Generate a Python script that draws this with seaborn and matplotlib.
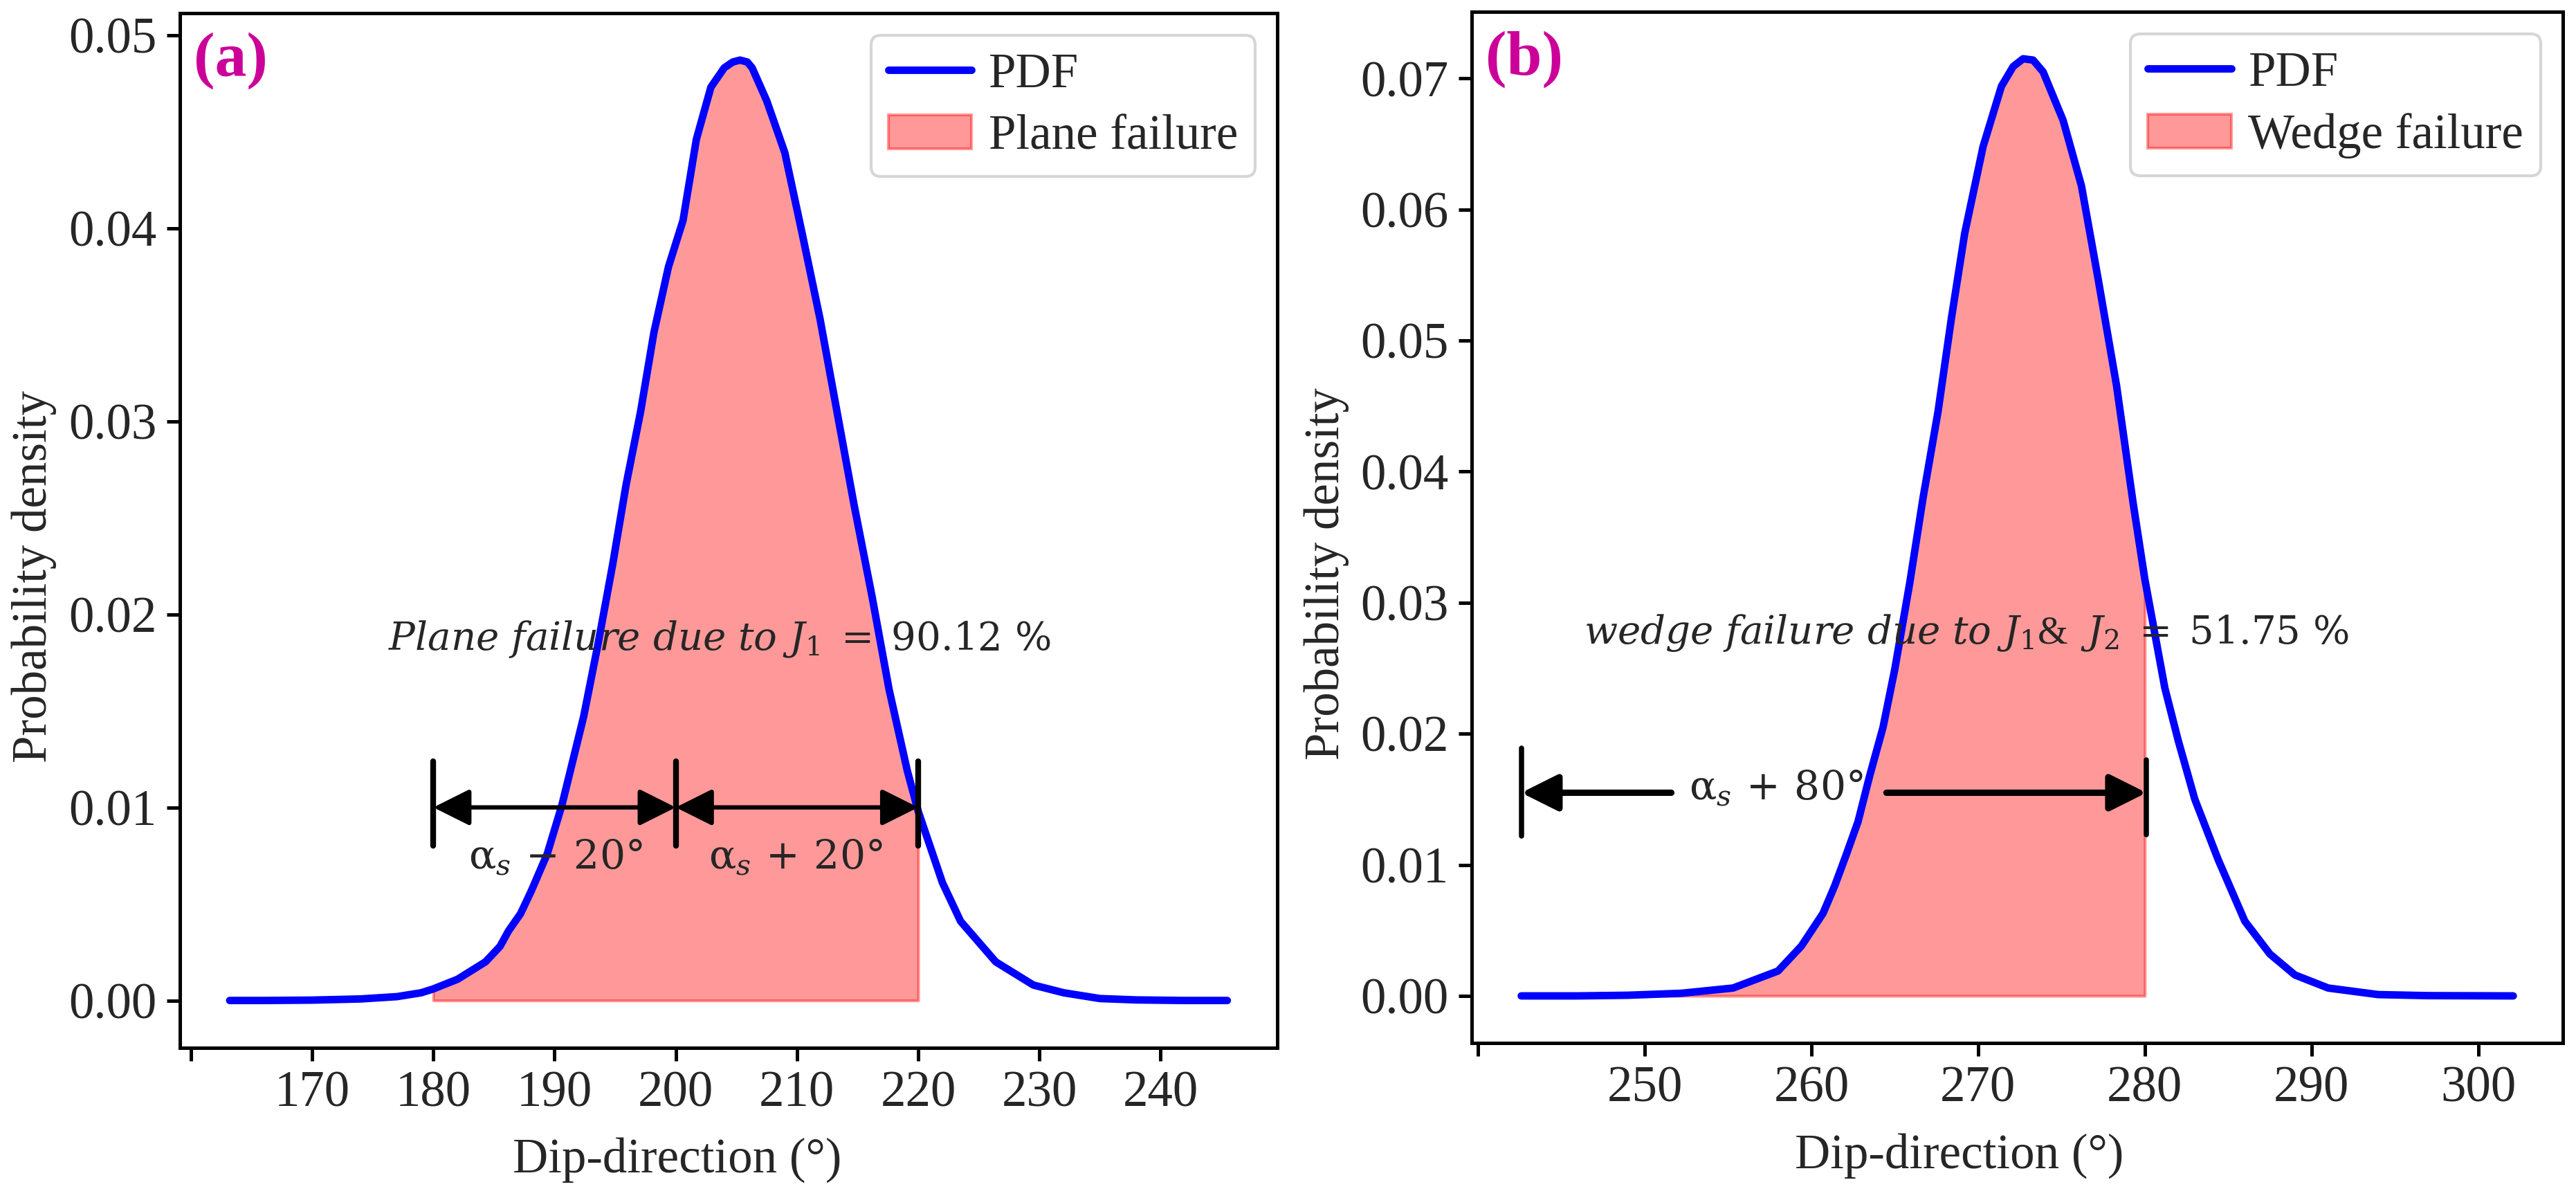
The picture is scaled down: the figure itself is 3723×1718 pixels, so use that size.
import numpy as np
import pandas as pd
import seaborn as sns
import matplotlib.pyplot as plt

# (a) plane failure, joint set J1
dip_a = [163.2, 166, 170, 174, 177, 179, 180, 182, 184.3, 185.5, 186.2, 187.2,
         188.1, 189.4, 190.6, 191.5, 192.4, 193.6, 194.8, 195.9, 197.1, 198.2,
         199.4, 200.6, 201.7, 202.9, 204.0, 204.7, 205.3, 205.9, 206.3, 207.5,
         209.0, 210.4, 211.9, 213.3, 214.7, 216.2, 217.6, 219.1, 220.0, 222.0,
         223.5, 226.4, 229.5, 232, 235, 238, 242, 245.5]
pdf_a = [0, 0, 0.00002, 0.00008, 0.0002, 0.0004, 0.0006, 0.0011, 0.0020, 0.0028,
         0.0036, 0.0045, 0.0057, 0.0076, 0.0101, 0.0124, 0.0147, 0.0185, 0.0226,
         0.0267, 0.0305, 0.0346, 0.0380, 0.0404, 0.0446, 0.0473, 0.0483, 0.0486,
         0.0487, 0.0486, 0.0483, 0.0466, 0.0439, 0.0398, 0.0353, 0.0305, 0.0257,
         0.0209, 0.0161, 0.0119, 0.0098, 0.0061, 0.0041, 0.0020, 0.0008, 0.0004,
         0.0001, 0.00003, 0, 0]
fail_a = (180, 220)

# (b) wedge failure, J1 & J2
dip_b = [242.6, 246, 249, 252.2, 255.3, 258.0, 259.4, 260.7, 261.4, 262.1, 262.8,
         263.5, 264.3, 265.0, 265.9, 266.7, 267.6, 268.4, 269.2, 270.3, 271.4,
         272.1, 272.7, 273.3, 273.9, 275.1, 276.2, 277.2, 278.3, 279.3, 280.0,
         281.2, 282.0, 283.0, 284.4, 286.0, 287.5, 289.0, 291, 294, 297, 302.1]
pdf_b = [0, 0, 0.00005, 0.0002, 0.0006, 0.0019, 0.0038, 0.0063, 0.0084, 0.0108,
         0.0133, 0.0168, 0.0205, 0.0249, 0.0315, 0.0380, 0.0446, 0.0517, 0.0582,
         0.0648, 0.0694, 0.0709, 0.0715, 0.0714, 0.0705, 0.0668, 0.0618, 0.0547,
         0.0466, 0.0376, 0.0318, 0.0235, 0.0195, 0.0150, 0.0104, 0.0057, 0.0032,
         0.0016, 0.0006, 0.0001, 0.00002, 0]
fail_b = (242.6, 280)

xticks_a = list(range(160, 250, 10))
xticks_b = list(range(240, 310, 10))
yticks_a = [0.00, 0.01, 0.02, 0.03, 0.04, 0.05]
yticks_b = [0.00, 0.01, 0.02, 0.03, 0.04, 0.05, 0.06, 0.07]

sns.set_style('ticks')
plt.rcParams['font.family'] = ['Liberation Serif', 'DejaVu Serif']
plt.rcParams['mathtext.fontset'] = 'dejavuserif'

fig = plt.figure(figsize=(3723 / 300, 1718 / 300), dpi=300)
ax1 = fig.add_axes([0.0698, 0.119, 0.426, 0.870])
ax2 = fig.add_axes([0.5713, 0.123, 0.4236, 0.867])

arrow = dict(arrowstyle='<|-|>,head_length=0.4,head_width=0.2', mutation_scale=27,
             color='black', lw=1.5, shrinkA=0, shrinkB=0)
one_way = dict(arrowstyle='-|>,head_length=0.4,head_width=0.2', mutation_scale=27,
               color='black', lw=2.2, shrinkA=0, shrinkB=0)


def panel(ax, x, y, span, fill_label, tag, xticks, yticks, xlab_x):
    df = pd.DataFrame({'dip': x, 'pdf': y})
    sns.lineplot(data=df, x='dip', y='pdf', ax=ax, color='blue', lw=2.6, label='PDF')
    part = df[(df['dip'] >= span[0]) & (df['dip'] <= span[1])]
    ax.fill_between(part['dip'], part['pdf'], color='red', alpha=0.4, label=fill_label)
    ax.set_xticks(xticks)
    ax.set_xticklabels([''] + [str(v) for v in xticks[1:]])
    ax.set_yticks(yticks)
    ax.set_yticklabels(['%.2f' % v for v in yticks])
    ax.tick_params(labelsize=17.5, length=4.5, width=1.2, color='black')
    for s in ax.spines.values():
        s.set_linewidth(1.2)
        s.set_color('black')
    ax.set_xlabel('Dip-direction (°)', fontsize=17, labelpad=7)
    ax.set_ylabel('Probability density', fontsize=17)
    ax.xaxis.label.set_x(xlab_x)
    ax.yaxis.label.set_y(0.455)
    ax.text(0.013, 0.982, tag, transform=ax.transAxes, ha='left', va='top',
            fontsize=22, fontweight='bold', color='#cc0099')
    ax.legend(loc='upper right', fontsize=17, handlelength=1.7, handletextpad=0.35,
              borderaxespad=0.45, labelspacing=0.35, borderpad=0.35)


panel(ax1, dip_a, pdf_a, fail_a, 'Plane failure', '(a)', xticks_a, yticks_a, 0.453)
panel(ax2, dip_b, pdf_b, fail_b, 'Wedge failure', '(b)', xticks_b, yticks_b, 0.447)

# annotations, panel (a)
for xb in (180, 200, 220):
    ax1.plot([xb, xb], [0.0080, 0.0124], color='black', lw=2)
ax1.annotate('', xy=(180, 0.01), xytext=(200, 0.01), arrowprops=arrow)
ax1.annotate('', xy=(200, 0.01), xytext=(220, 0.01), arrowprops=arrow)
ax1.text(190.1, 0.0074, r'$\mathrm{\alpha}_s\,-\,20°$', ha='center', va='center', fontsize=14)
ax1.text(209.9, 0.0074, r'$\mathrm{\alpha}_s\,+\,20°$', ha='center', va='center', fontsize=14)
ax1.text(203.6, 0.0187, r'$Plane\ failure\ due\ to\ J_1\;=\;90.12\ \%$',
         ha='center', va='center', fontsize=13.5)

# annotations, panel (b)
ax2.plot([242.6, 242.6], [0.0122, 0.0189], color='black', lw=1.8)
ax2.plot([280.1, 280.1], [0.0123, 0.0180], color='black', lw=1.8)
ax2.annotate('', xy=(242.6, 0.0155), xytext=(251.6, 0.0155), arrowprops=one_way)
ax2.annotate('', xy=(280.1, 0.0155), xytext=(264.5, 0.0155), arrowprops=one_way)
ax2.text(257.9, 0.0158, r'$\mathrm{\alpha}_s\,+\,80°$', ha='center', va='center', fontsize=14)
ax2.text(269.3, 0.0277, r'$wedge\ failure\ due\ to\ J_1$&  $J_2\;=\;51.75\ \%$',
         ha='center', va='center', fontsize=13.5)

fig.savefig('out.png', dpi=300)
